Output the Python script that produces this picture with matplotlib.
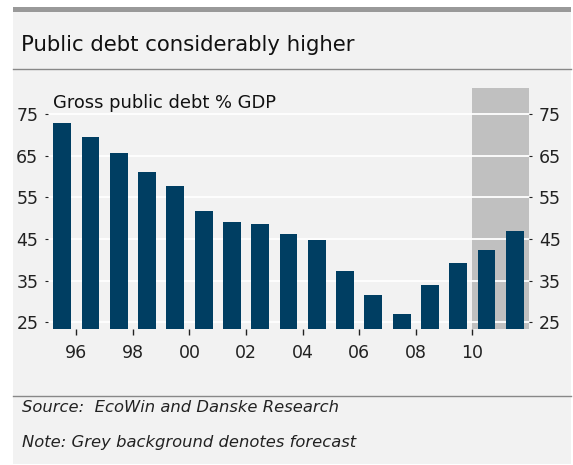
import matplotlib.pyplot as plt
from matplotlib.patches import Rectangle
from matplotlib.lines import Line2D

# Gross public debt, % of GDP (2010-2011 are forecasts)
years = list(range(1995, 2012))
debt = [72.8, 69.5, 65.6, 61.2, 57.8, 51.8, 49.0, 48.7, 46.2, 44.9,
        37.4, 31.6, 27.1, 33.9, 39.2, 42.3, 46.9]
tick_years = [1996, 1998, 2000, 2002, 2004, 2006, 2008, 2010]
tick_labels = ['96', '98', '00', '02', '04', '06', '08', '10']
y_ticks = [25, 35, 45, 55, 65, 75]
forecast_start, forecast_end = 2010, 2012

W, H = 573, 465
fig = plt.figure(figsize=(W / 100, H / 100), dpi=100)
fig.patch.set_facecolor('white')

def px(x, y):
    # pixel coords (from top-left) -> figure fraction
    return x / W, 1 - y / H

# panel background and decoration
fig.patches.append(Rectangle(px(13, 464), (571 - 13) / W, (464 - 7) / H,
                             transform=fig.transFigure, facecolor='#f2f2f2',
                             edgecolor='none', zorder=-2))
fig.patches.append(Rectangle(px(13, 12.5), (571 - 13) / W, 5.5 / H,
                             transform=fig.transFigure, facecolor='#999999',
                             edgecolor='none', zorder=-1))
for yy in (69, 395.5):
    fig.lines.append(Line2D([13 / W, 571 / W], [1 - yy / H] * 2,
                            transform=fig.transFigure, color='#888888', lw=1,
                            zorder=-1))

fig.text(*px(21, 45), 'Public debt considerably higher', fontsize=15.3,
         va='center', ha='left', color='#111111')
fig.text(*px(22, 407), 'Source:  EcoWin and Danske Research', fontsize=11.8,
         style='italic', va='center', ha='left', color='#222222')
fig.text(*px(22, 442), 'Note: Grey background denotes forecast', fontsize=11.8,
         style='italic', va='center', ha='left', color='#222222')

ax = fig.add_axes([48 / W, 1 - 329 / H, (529 - 48) / W, (329 - 88) / H])
ax.set_zorder(2)
ax.set_facecolor('none')
ax.axvspan(forecast_start, forecast_end, color='#c0c0c0', zorder=0, lw=0)
x = [y + 0.5 for y in years]
ax.bar(x, debt, width=0.63, color='#003e62', zorder=3)

ax.set_xlim(1995, 2012)
ax.set_ylim(23.4, 81.3)
ax.set_yticks(y_ticks)
ax.set_xticks(tick_years)
ax.set_xticklabels(tick_labels)
ax.set_axisbelow(True)
ax.grid(axis='y', color='white', lw=1.3)
for s in ax.spines.values():
    s.set_visible(False)
ax.tick_params(axis='y', left=True, right=True, labelleft=True, labelright=True,
               length=2, width=0.8, pad=5, labelsize=12.5, colors='#222222')
ax.tick_params(axis='x', length=4, width=1, pad=7, labelsize=12.5,
               colors='#222222')

ax.text((53 - 48) / (529 - 48), 1 - (103.5 - 88) / (329 - 88),
        'Gross public debt % GDP', transform=ax.transAxes, fontsize=12.9,
        va='center', ha='left', color='#111111', zorder=5)

fig.savefig('out.png', dpi=100)
